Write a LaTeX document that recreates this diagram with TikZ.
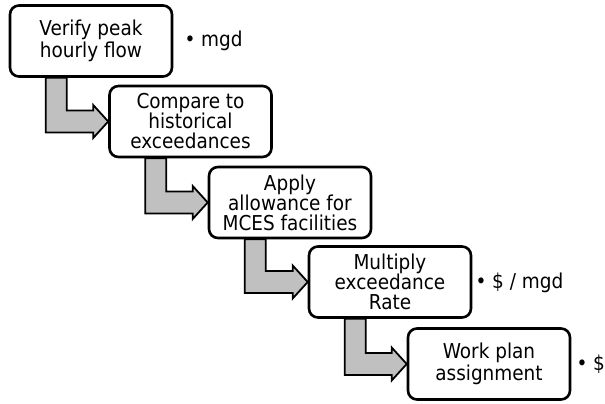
\documentclass[tikz,border=0pt]{standalone}
\usepackage{fontspec}
\setmainfont{DejaVu Sans Condensed}
\usetikzlibrary{calc}
\pgfdeclarelayer{background}
\pgfsetlayers{background,main}
\definecolor{arrowgray}{RGB}{192,192,192}
\tikzset{
  stepbox/.style={draw=black, line width=2.6pt, fill=white, rounded corners=9pt,
    minimum width=162pt, minimum height=71pt, align=center, inner sep=0pt,
    font=\fontsize{20.5}{20}\selectfont},
  note/.style={anchor=west, inner sep=0pt, font=\fontsize{20.5}{20}\selectfont},
  flowarrow/.style={draw=black, line width=1.8pt, fill=arrowgray, line join=miter}
}
\newcommand\steparrow[2]{%
  \draw[flowarrow] let \p1=(#1.south west), \p2=(#2.west) in
    (\x1+37pt,\y1) -- (\x1+37pt,\y2-11pt) -- (\x2-15pt,\y2-11pt) -- (\x2-15pt,\y2-16.5pt)
    -- (\x2,\y2) -- (\x2-15pt,\y2+16.5pt) -- (\x2-15pt,\y2+11pt) -- (\x1+58pt,\y2+11pt)
    -- (\x1+58pt,\y1) -- cycle;}
\begin{document}
\begin{tikzpicture}[x=1pt,y=-1pt]
\useasboundingbox (0,0) rectangle (605,404);
\node[stepbox] (b1) at (91,41) {Verify peak\\[1.5pt]hourly flow};
\node[stepbox] (b2) at (190.5,121.5) {Compare to\\historical\\exceedances};
\node[stepbox] (b3) at (290,202.5) {Apply\\allowance for\\MCES facilities};
\node[stepbox] (b4) at (390,282) {Multiply\\exceedance\\Rate};
\node[stepbox] (b5) at (489,364) {Work plan\\[1.5pt]assignment};
\node[note] (n1) at ($(b1.east)+(11,0)$) {\textbullet\ mgd};
\node[note] (n4) at ($(b4.east)+(3,1)$) {\textbullet\ \$ / mgd};
\node[note] (n5) at ($(b5.east)+(5,0)$) {\textbullet\ \$};
\begin{pgfonlayer}{background}
\steparrow{b1}{b2}
\steparrow{b2}{b3}
\steparrow{b3}{b4}
\steparrow{b4}{b5}
\end{pgfonlayer}
\end{tikzpicture}
\end{document}
